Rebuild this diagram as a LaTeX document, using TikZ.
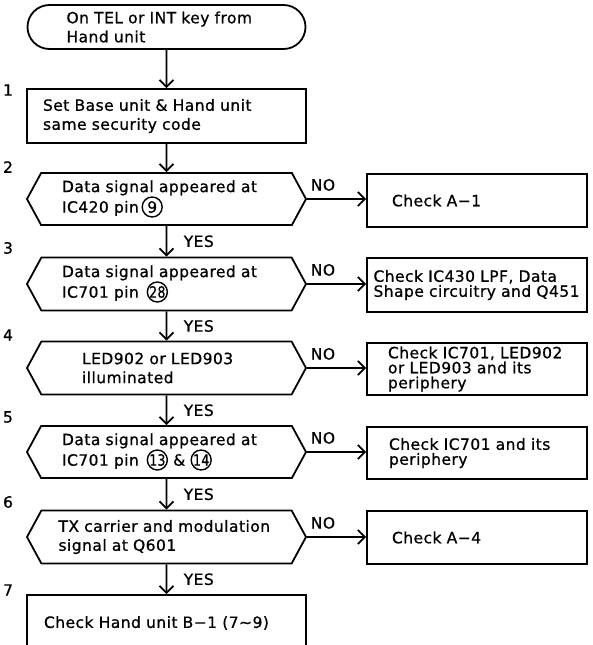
\documentclass[tikz,border=0pt]{standalone}
\usepackage{fontspec}
\setmainfont{DejaVu Sans}[LetterSpace=3,WordSpace=1.5,FakeBold=0.8]
\usetikzlibrary{arrows.meta,shapes.misc,shapes.symbols}

\tikzset{
  flow/.style={line width=1.8pt, -{Straight Barb[length=7pt,width=14pt]}},
  startbox/.style={draw, line width=1.8pt, rounded rectangle, minimum width=278pt, minimum height=44pt, inner xsep=0pt, text width=200pt, align=left},
  stepbox/.style={draw, line width=1.8pt, rectangle, minimum width=279pt, align=left},
  query/.style={draw, line width=1.8pt, signal, signal to=west and east, signal pointer angle=123, minimum width=279pt, minimum height=52pt, inner sep=0pt, align=left},
  fixbox/.style={draw, line width=1.8pt, rectangle, minimum width=220pt, align=left, font=\fontsize{15.5}{15}\selectfont},
  pinring/.style={draw, circle, line width=1.4pt, inner sep=0pt, minimum size=20pt},
  yeslbl/.style={midway, anchor=west, xshift=13pt},
  nolbl/.style={pos=0.27, above=4pt},
}
\newcommand{\pinno}[1]{\tikz[baseline=(pn.base)]\node[pinring] (pn) {#1};}
\newcommand{\pinnos}[1]{\tikz[baseline=(pn.base)]\node[pinring] (pn) {\scalebox{0.8}[1]{#1}};}

\begin{document}
\begin{tikzpicture}[x=1pt, y=-1pt, font=\fontsize{15.5}{19}\selectfont]
\useasboundingbox (0,0) rectangle (592,645);

% main column
\node[startbox] (start) at (166.5,27) {On TEL or INT key from\\Hand unit};
\node[stepbox, minimum height=54pt, inner xsep=16pt, text width=247pt] (same) at (166.5,116) {Set Base unit \& Hand unit\\same security code};
\node[query, text width=209pt] (q9) at (166.5,199) {Data signal appeared at\\IC420 pin\,\pinno{9}};
\node[query, minimum height=53pt, text width=209pt] (q28) at (166.5,284) {Data signal appeared at\\IC701 pin\ \,\pinnos{28}};
\node[query, minimum height=53pt, text width=169pt] (qled) at (166.5,368) {LED902 or LED903\\illuminated};
\node[query, text width=209pt] (q1314) at (166.5,452) {Data signal appeared at\\IC701 pin\ \,\pinnos{13} \& \pinnos{14}};
\node[query, minimum height=53pt, text width=216pt] (qtx) at (166.5,537) {TX carrier and modulation\\signal at Q601};
\node[stepbox, minimum height=56pt, inner xsep=17pt, text width=245pt] (hand) at (166.5,623) {Check Hand unit B−1 (7∼9)};

% check boxes
\node[fixbox, minimum height=53pt, inner xsep=25pt, text width=170pt] (chkA) at (477,200.5) {Check A−1};
\node[fixbox, minimum height=54pt, inner xsep=6.5pt, text width=207pt] (chkLPF) at (477,285) {Check IC430 LPF, Data\\Shape circuitry and Q451};
\node[fixbox, minimum height=52pt, inner xsep=21pt, text width=178pt] (chkLED) at (477,369) {Check IC701, LED902\\or LED903 and its\\periphery};
\node[fixbox, minimum height=52pt, inner xsep=22pt, text width=176pt] (chkIC) at (477,453) {Check IC701 and its\\periphery};
\node[fixbox, minimum height=53pt, inner xsep=25pt, text width=170pt] (chkB) at (477,537.5) {Check A−4};

% step numbers
\foreach \n/\y in {1/90,2/167,3/248,4/335,5/417,6/502,7/590}
  \node (step\n) at (8,\y) {\n};

% YES path
\draw[flow] (start) -- (same);
\draw[flow] (same) -- (q9);
\draw[flow] (q9) -- node[yeslbl] {YES} (q28);
\draw[flow] (q28) -- node[yeslbl] {YES} (qled);
\draw[flow] (qled) -- node[yeslbl] {YES} (q1314);
\draw[flow] (q1314) -- node[yeslbl] {YES} (qtx);
\draw[flow] (qtx) -- node[yeslbl] {YES} (hand);

% NO path
\draw[flow] (q9.east) -- node[nolbl] {NO} (q9.east -| chkA.west);
\draw[flow] (q28.east) -- node[nolbl] {NO} (q28.east -| chkLPF.west);
\draw[flow] (qled.east) -- node[nolbl] {NO} (qled.east -| chkLED.west);
\draw[flow] (q1314.east) -- node[nolbl] {NO} (q1314.east -| chkIC.west);
\draw[flow] (qtx.east) -- node[nolbl] {NO} (qtx.east -| chkB.west);
\end{tikzpicture}
\end{document}
